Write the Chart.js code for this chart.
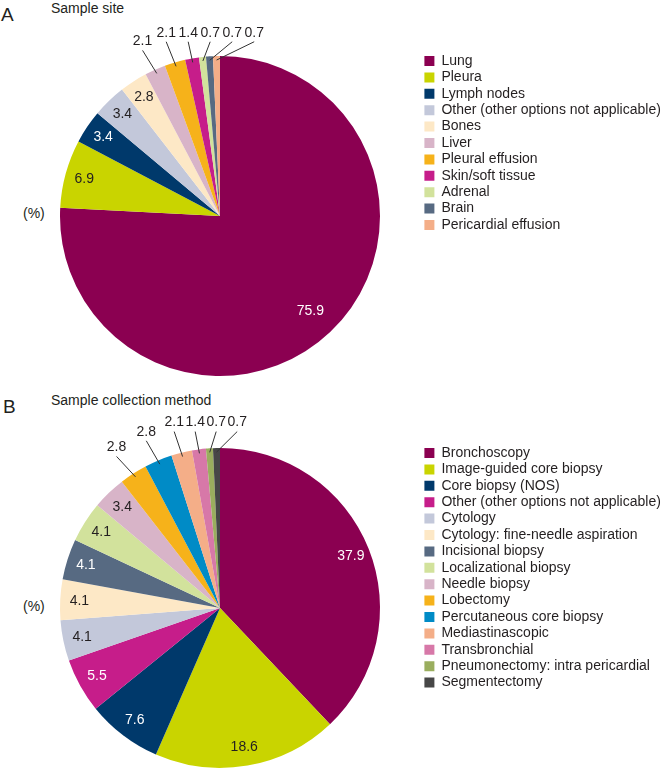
<!DOCTYPE html>
<html>
<head>
<meta charset="utf-8">
<script src="https://cdn.jsdelivr.net/npm/chart.js@4.4.1/dist/chart.umd.min.js"></script>
<style>
  body { margin: 0; background: #fff; overflow: hidden; width: 667px; height: 769px; position: relative;
         font-family: "Liberation Sans", Arial, sans-serif; color: #231f20; }
  .txt { position: absolute; font-size: 14px; line-height: 16px; white-space: nowrap; }
  .panel { position: absolute; font-size: 19px; line-height: 19px; }
  canvas { position: absolute; left: 0; }
</style>
</head>
<body>
<div class="panel" style="left:1px; top:5px;">A</div>
<div class="txt" style="left:51px; top:0px;">Sample site</div>
<div class="txt" style="left:23px; top:205px;">(%)</div>
<canvas id="siteChart" width="667" height="385" style="top:0px;"></canvas>

<div class="panel" style="left:3px; top:397px;">B</div>
<div class="txt" style="left:51px; top:392px;">Sample collection method</div>
<div class="txt" style="left:23px; top:598px;">(%)</div>
<canvas id="methodChart" width="667" height="395" style="top:380px;"></canvas>

<script>
// panel A - sample site
const siteLabels = ['Lung', 'Pleura', 'Lymph nodes', 'Other (other options not applicable)', 'Bones', 'Liver',
  'Pleural effusion', 'Skin/soft tissue', 'Adrenal', 'Brain', 'Pericardial effusion'];
const siteValues = [75.9, 6.9, 3.4, 3.4, 2.8, 2.1, 2.1, 1.4, 0.7, 0.7, 0.7];
const siteColors = ['#8b0051', '#c9d400', '#00396b', '#c3c8da', '#fde8c6', '#d8b4c8',
  '#f6b21a', '#c61d8a', '#d2e29c', '#576a82', '#f4ae88'];

// panel B - sample collection method
const methodLabels = ['Bronchoscopy', 'Image-guided core biopsy', 'Core biopsy (NOS)', 'Other (other options not applicable)',
  'Cytology', 'Cytology: fine-needle aspiration', 'Incisional biopsy', 'Localizational biopsy', 'Needle biopsy',
  'Lobectomy', 'Percutaneous core biopsy', 'Mediastinascopic', 'Transbronchial', 'Pneumonectomy: intra pericardial',
  'Segmentectomy'];
const methodValues = [37.9, 18.6, 7.6, 5.5, 4.1, 4.1, 4.1, 4.1, 3.4, 2.8, 2.8, 2.1, 1.4, 0.7, 0.7];
const methodColors = ['#8b0051', '#c9d400', '#00396b', '#c61d8a', '#c3c8da', '#fde8c6', '#576a82', '#d2e29c',
  '#d8b4c8', '#f6b21a', '#008bc6', '#f4ae88', '#d778a8', '#9aae5e', '#474747'];

const FONT = '"Liberation Sans", Arial, sans-serif';

function isDark(hex) {
  const r = parseInt(hex.substr(1, 2), 16), g = parseInt(hex.substr(3, 2), 16), b = parseInt(hex.substr(5, 2), 16);
  return (0.299 * r + 0.587 * g + 0.114 * b) / 255 < 0.5;
}

// value labels: inside for big slices, outside with leader line for small ones
const valueLabels = {
  id: 'valueLabels',
  afterDatasetsDraw(chart, args, opts) {
    const ctx = chart.ctx;
    const meta = chart.getDatasetMeta(0);
    const ds = chart.data.datasets[0];
    ctx.save();
    ctx.font = '14px ' + FONT;
    ctx.textAlign = 'center';
    ctx.textBaseline = 'middle';
    let prevX = -Infinity, prevY = 0;
    meta.data.forEach((arc, i) => {
      const p = arc.getProps(['x', 'y', 'startAngle', 'endAngle', 'outerRadius'], true);
      const mid = (p.startAngle + p.endAngle) / 2;
      const v = ds.data[i];
      const txt = v.toFixed(1);
      if (v >= opts.outsideBelow) {
        const d = p.outerRadius * (v > 50 ? 0.82 : 0.88);
        ctx.fillStyle = isDark(ds.backgroundColor[i]) ? '#ffffff' : '#231f20';
        ctx.fillText(txt, p.x + Math.cos(mid) * d, p.y + Math.sin(mid) * d);
      } else {
        const d = p.outerRadius + 31;
        let lx = p.x + Math.cos(mid) * d, ly = p.y + Math.sin(mid) * d;
        if (lx < prevX + opts.gap) { lx = prevX + opts.gap; ly = prevY; }
        prevX = lx; prevY = ly;
        const px = p.x + Math.cos(mid) * (p.outerRadius - 4);
        const py = p.y + Math.sin(mid) * (p.outerRadius - 4);
        ctx.strokeStyle = '#333';
        ctx.lineWidth = 1;
        ctx.beginPath();
        ctx.moveTo(lx, ly + 9);
        ctx.lineTo(px, py);
        ctx.stroke();
        ctx.fillStyle = '#231f20';
        ctx.fillText(txt, lx, ly);
      }
    });
    ctx.restore();
  }
};

function makePie(id, labels, values, colors, padding, outsideBelow, gap) {
  return new Chart(document.getElementById(id), {
    type: 'pie',
    data: {
      labels: labels,
      datasets: [{
        data: values,
        backgroundColor: colors,
        borderWidth: 0,
        radius: 160
      }]
    },
    options: {
      responsive: false,
      animation: false,
      layout: { padding: padding },
      plugins: {
        tooltip: { enabled: false },
        legend: {
          position: 'right',
          align: 'start',
          maxWidth: 245,
          labels: {
            boxWidth: 10,
            boxHeight: 10,
            padding: 2.4,
            color: '#231f20',
            font: { size: 14, family: FONT }
          }
        },
        valueLabels: { outsideBelow: outsideBelow, gap: gap }
      }
    },
    plugins: [valueLabels]
  });
}

makePie('siteChart', siteLabels, siteValues, siteColors,
  { left: 18, right: 0, top: 51.6, bottom: 4.6 }, 2.5, 22);
makePie('methodChart', methodLabels, methodValues, methodColors,
  { left: 18, right: 0, top: 63.6, bottom: 2.6 }, 3, 21);
</script>
</body>
</html>
